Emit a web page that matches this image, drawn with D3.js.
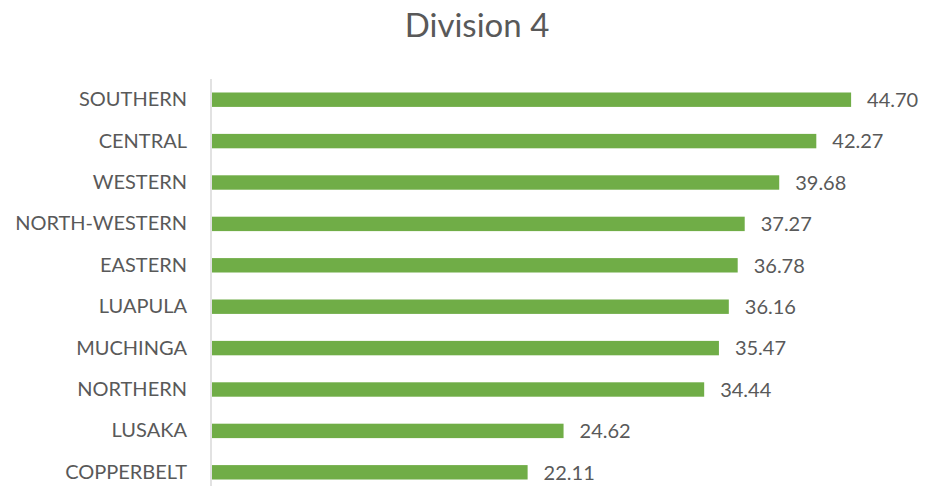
<!DOCTYPE html>
<html>
<head>
<meta charset="utf-8">
<script src="https://cdn.jsdelivr.net/npm/d3@7"></script>
<style>
  body { margin: 0; background: #fff; }
  text { font-family: Lato, "Open Sans", sans-serif; fill: #595959; }
</style>
</head>
<body>
<script>
// chart values, top to bottom
var provinces = ['SOUTHERN', 'CENTRAL', 'WESTERN', 'NORTH-WESTERN', 'EASTERN',
                 'LUAPULA', 'MUCHINGA', 'NORTHERN', 'LUSAKA', 'COPPERBELT'];
var division4 = [44.70, 42.27, 39.68, 37.27, 36.78, 36.16, 35.47, 34.44, 24.62, 22.11];
var chartTitle = 'Division 4';

var W = 938, H = 486;
var margin = { top: 79, left: 211, right: 11, bottom: -7 };

var svg = d3.select('body').append('svg')
    .attr('width', W)
    .attr('height', H);

var x = d3.scaleLinear()
    .domain([0, 50])
    .range([margin.left, W - margin.right]);

var y = d3.scaleBand()
    .domain(provinces)
    .range([margin.top, H - margin.bottom])
    .paddingInner(0.652)
    .paddingOuter(0.326);

// title
svg.append('text')
    .attr('x', 477)
    .attr('y', 37)
    .attr('text-anchor', 'middle')
    .style('font-size', '33px')
    .text(chartTitle);

// bars
svg.selectAll('rect.bar')
    .data(division4)
    .enter().append('rect')
    .attr('class', 'bar')
    .attr('x', x(0) + 1)
    .attr('y', function(d, i) { return y(provinces[i]); })
    .attr('width', function(d) { return x(d) - x(0) - 1; })
    .attr('height', y.bandwidth())
    .attr('fill', '#70AD47');

// value labels
svg.selectAll('text.val')
    .data(division4)
    .enter().append('text')
    .attr('class', 'val')
    .attr('x', function(d) { return x(d) + 16; })
    .attr('y', function(d, i) { return y(provinces[i]) + y.bandwidth() / 2; })
    .attr('dy', '0.36em')
    .style('font-size', '20px')
    .text(function(d) { return d.toFixed(2); });

// category axis
var yAxis = d3.axisLeft(y).tickSize(0).tickPadding(24);
var ax = svg.append('g')
    .attr('transform', 'translate(' + margin.left + ',0)')
    .call(yAxis);
ax.select('.domain').remove();
ax.selectAll('text')
    .style('font-size', '20px')
    .attr('fill', '#595959');

svg.append('line')
    .attr('x1', margin.left).attr('x2', margin.left)
    .attr('y1', margin.top).attr('y2', H)
    .attr('stroke', '#d9d9d9')
    .attr('stroke-width', 1.5);
</script>
</body>
</html>
